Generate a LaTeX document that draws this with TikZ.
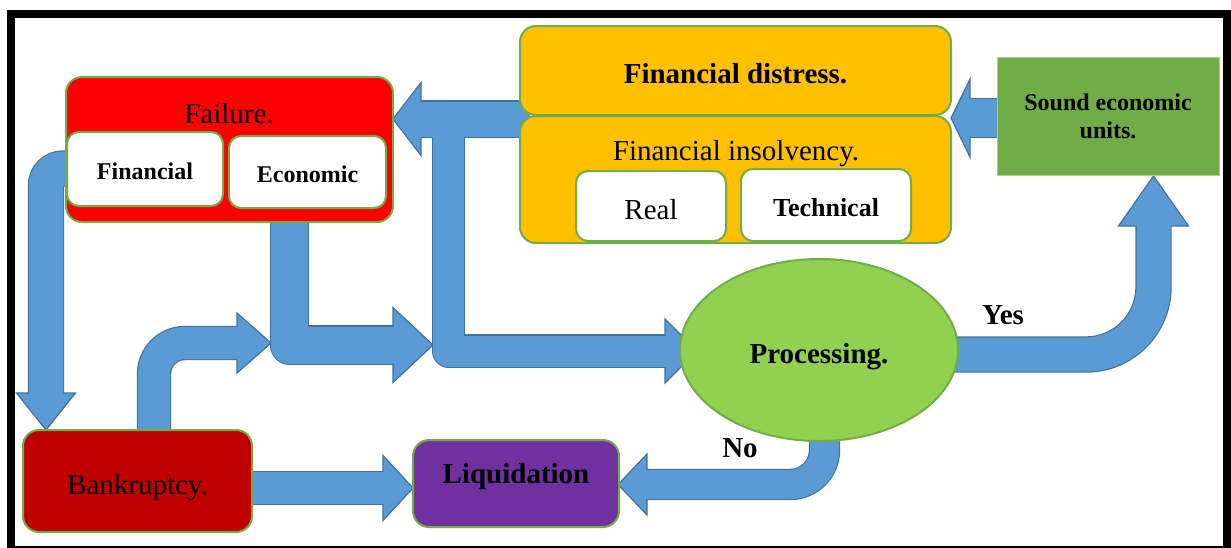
\documentclass[tikz,border=0pt]{standalone}
\usepackage{fontspec}
\setmainfont{Liberation Serif}
\usepackage{tikz}
\usetikzlibrary{shapes,positioning,calc}
\definecolor{arrowfill}{HTML}{5B9BD5}
\definecolor{arrowedge}{HTML}{41719C}
\definecolor{boxedge}{HTML}{70AD47}
\definecolor{failred}{HTML}{FF0000}
\definecolor{bankred}{HTML}{C00000}
\definecolor{distorange}{HTML}{FFC000}
\definecolor{soundgreen}{HTML}{70AD47}
\definecolor{soundedge}{HTML}{A9D18E}
\definecolor{procgreen}{HTML}{92D050}
\definecolor{liqpurple}{HTML}{7030A0}
\pgfdeclarelayer{back}
\pgfsetlayers{back,main}
\tikzset{
  box/.style={draw=boxedge, line width=2, rounded corners=16, inner sep=0},
  subbox/.style={box, fill=white, rounded corners=12},
  plaintext/.style={text height=27.5, text depth=1.3, font=\fontsize{29}{34}\selectfont},
  boldtext/.style={text height=27.5, text depth=1.3, font=\fontsize{29}{34}\selectfont\bfseries},
  smallbold/.style={font=\fontsize{24}{28}\selectfont\bfseries},
  lowsmall/.style={text height=21, text depth=1},
  shaftedge/.style={draw=arrowedge, line width=#1+2.4, line cap=butt},
  shaftbody/.style={draw=arrowfill, line width=#1, line cap=butt},
  blockhead/.style={fill=arrowfill, draw=arrowedge, line width=1.2, line join=miter}
}

\begin{document}
\begin{tikzpicture}[x=1pt,y=-1pt]
    \useasboundingbox (0,0) rectangle (1231,547);
    % Frame
    \draw[line width=8] (11,14) rectangle (1226.5,550);

    % Failure
    \node[box, fill=failred, minimum width=327, minimum height=145] (fail) at (229.5,149.5) {};
    \node[plaintext] (failtxt) at (229,110) {Failure.};
    \node[subbox, smallbold, lowsmall, minimum width=156, minimum height=74] (fin) at (145,169) {Financial};
    \node[subbox, smallbold, lowsmall, minimum width=157, minimum height=72] (eco) at (307.5,172) {Economic};

    % Financial distress and insolvency
    \node[box, fill=distorange, boldtext, minimum width=431, minimum height=89] (dist) at (735.5,70.5) {Financial distress.};
    \node[box, fill=distorange, minimum width=431, minimum height=127] (insol) at (735.5,179.5) {};
    \node[plaintext] (insoltxt) at (736,147) {Financial insolvency.};
    \node[subbox, plaintext, minimum width=150, minimum height=70] (real) at (651,206) {Real};
    \node[subbox, text height=24, text depth=0.8, font=\fontsize{26}{30}\selectfont\bfseries, minimum width=170, minimum height=72] (tech) at (826,205) {Technical};

    % Sound economic units
    \node[fill=soundgreen, draw=soundedge, line width=1, smallbold, align=center, minimum width=222, minimum height=118] (sound) at (1108,116) {Sound economic\\units.};

    % Processing
    \node[ellipse, draw=boxedge, line width=2, fill=procgreen, boldtext, minimum width=278, minimum height=182, inner sep=0] (proc) at (819,350) {Processing.};

    % Bankruptcy and liquidation
    \node[box, fill=bankred, plaintext, minimum width=229, minimum height=102] (bank) at (137.5,481) {Bankruptcy.};
    \node[box, fill=liqpurple, minimum width=206, minimum height=87] (liq) at (516,483.5) {};
    \node[boldtext] (liqtxt) at (516,470) {Liquidation};

    % Answers
    \node[boldtext] (yes) at (1003,311) {Yes};
    \node[boldtext] (no) at (740,444) {No};

    % Arrow end points
    \coordinate (soundtip) at (951,118);
    \coordinate (failtip) at (393,119);
    \coordinate (proctip) at (697,351);
    \coordinate (banktip) at (46,430);
    \coordinate (ecotip) at (433,345);
    \coordinate (branchtip) at (271,343);
    \coordinate (liqtip) at (413,488);
    \coordinate (notip) at (618,484.5);
    \coordinate (yestip) at (1153.5,176);

    \begin{pgfonlayer}{back}
    % shaft outlines
    \draw[shaftedge=38] (1010,118) -- ($(soundtip)+(19,0)$);
    \draw[shaftedge=35] (530,119) -- ($(failtip)+(28,0)$);
    \draw[shaftedge=31, line join=round] (448.5,119) -- (448.5,351) -- ($(proctip)+(-32,0)$);
    \draw[shaftedge=34, rounded corners=17] (90,168.5) -- (46,168.5) -- ($(banktip)+(0,-37)$);
    \draw[shaftedge=37, line join=round] (289.5,215) -- (289.5,345) -- ($(ecotip)+(-40,0)$);
    \draw[shaftedge=32, rounded corners=31] (154,445) -- (154,343) -- ($(branchtip)+(-34,0)$);
    \draw[shaftedge=32] (240,488) -- ($(liqtip)+(-30,0)$);
    \draw[shaftedge=29, rounded corners=34.5] (824.5,420) -- (824.5,484.5) -- ($(notip)+(29,0)$);
    \draw[shaftedge=34, rounded corners=67.5] (940,354.5) -- (1153.5,354.5) -- ($(yestip)+(0,50)$);

    % heads
    \draw[blockhead] (soundtip) -- ++(19,-39) -- ++(0,78) -- cycle;
    \draw[blockhead] (failtip) -- ++(28,-36.5) -- ++(0,73) -- cycle;
    \draw[blockhead] (proctip) -- ++(-32,-32) -- ++(0,64) -- cycle;
    \draw[blockhead] (banktip) -- ++(-29.5,-37) -- ++(59,0) -- cycle;
    \draw[blockhead] (ecotip) -- ++(-40,-37.5) -- ++(0,75) -- cycle;
    \draw[blockhead] (branchtip) -- ++(-34,-30) -- ++(0,60) -- cycle;
    \draw[blockhead] (liqtip) -- ++(-30,-32.5) -- ++(0,65) -- cycle;
    \draw[blockhead] (notip) -- ++(29,-30.5) -- ++(0,61) -- cycle;
    \draw[blockhead] (yestip) -- ++(-35,50) -- ++(70,0) -- cycle;

    % shaft bodies
    \draw[shaftbody=38] (1010,118) -- ($(soundtip)+(17,0)$);
    \draw[shaftbody=35] (530,119) -- ($(failtip)+(26,0)$);
    \draw[shaftbody=31, line join=round] (448.5,119) -- (448.5,351) -- ($(proctip)+(-30,0)$);
    \draw[shaftbody=34, rounded corners=17] (90,168.5) -- (46,168.5) -- ($(banktip)+(0,-35)$);
    \draw[shaftbody=37, line join=round] (289.5,215) -- (289.5,345) -- ($(ecotip)+(-38,0)$);
    \draw[shaftbody=32, rounded corners=31] (154,445) -- (154,343) -- ($(branchtip)+(-32,0)$);
    \draw[shaftbody=32] (240,488) -- ($(liqtip)+(-28,0)$);
    \draw[shaftbody=29, rounded corners=34.5] (824.5,420) -- (824.5,484.5) -- ($(notip)+(27,0)$);
    \draw[shaftbody=34, rounded corners=67.5] (940,354.5) -- (1153.5,354.5) -- ($(yestip)+(0,48)$);
    \end{pgfonlayer}
\end{tikzpicture}
\end{document}
